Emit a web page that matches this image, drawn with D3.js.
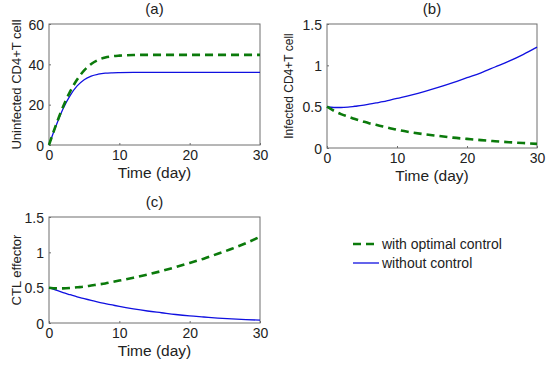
<!DOCTYPE html>
<html>
<head>
<meta charset="utf-8">
<script src="https://cdn.jsdelivr.net/npm/d3@7"></script>
<style>
  body { margin: 0; background: #fff; }
  svg { font-family: "Liberation Sans", Arial, sans-serif; }
</style>
</head>
<body>
<div id="chart"></div>
<script>
// time grid (days)
const days = [0, 1, 2, 3, 4, 5, 6, 7, 8, 9, 10, 12, 14, 16, 18, 20, 22, 24, 26, 28, 30];

// (a) uninfected CD4+T cells
const uninfWith    = [0, 10, 19, 26.5, 32.5, 37, 40.2, 42.2, 43.4, 44.0, 44.3, 44.6, 44.7, 44.7, 44.7, 44.7, 44.7, 44.7, 44.7, 44.7, 44.7];
const uninfWithout = [0, 9.5, 18, 24.5, 29.3, 32.4, 34.2, 35.1, 35.6, 35.8, 35.9, 36, 36, 36, 36, 36, 36, 36, 36, 36, 36];

// (b) infected CD4+T cells
const infWith    = [0.5, 0.45, 0.41, 0.38, 0.35, 0.325, 0.3, 0.28, 0.26, 0.24, 0.22, 0.19, 0.165, 0.145, 0.125, 0.11, 0.095, 0.082, 0.07, 0.06, 0.05];
const infWithout = [0.5, 0.49, 0.49, 0.495, 0.505, 0.515, 0.53, 0.545, 0.56, 0.58, 0.6, 0.64, 0.685, 0.735, 0.79, 0.85, 0.91, 0.98, 1.05, 1.13, 1.22];

// (c) CTL effector
const ctlWith    = [0.5, 0.49, 0.49, 0.495, 0.505, 0.515, 0.53, 0.545, 0.56, 0.58, 0.6, 0.64, 0.685, 0.735, 0.79, 0.85, 0.91, 0.98, 1.05, 1.13, 1.22];
const ctlWithout = [0.5, 0.465, 0.43, 0.4, 0.37, 0.345, 0.32, 0.295, 0.275, 0.255, 0.235, 0.2, 0.17, 0.145, 0.12, 0.1, 0.085, 0.07, 0.058, 0.048, 0.04];

const xTicks = [0, 10, 20, 30];
const legendLabels = ["with optimal control", "without control"];

const width = 550, height = 375;
const green = "#0b7a0b", blue = "#1010e0", axisColor = "#6e6e6e";

const panels = [
  { title: "(a)", ylabel: "Uninfected CD4+T cell", ylabelSize: 13, x0: 49, x1: 260, y0: 24, y1: 145,
    yDomain: [0, 60], yTicks: [0, 20, 40, 60], withCtl: uninfWith, without: uninfWithout, ylabX: 21 },
  { title: "(b)", ylabel: "Infected CD4+T cell", ylabelSize: 12, x0: 327, x1: 537, y0: 24, y1: 148,
    yDomain: [0, 1.5], yTicks: [0, 0.5, 1, 1.5], withCtl: infWith, without: infWithout, ylabX: 293 },
  { title: "(c)", ylabel: "CTL effector", ylabelSize: 13, x0: 49, x1: 260, y0: 217, y1: 323,
    yDomain: [0, 1.5], yTicks: [0, 0.5, 1, 1.5], withCtl: ctlWith, without: ctlWithout, ylabX: 21 }
];

const svg = d3.select("#chart").append("svg").attr("width", width).attr("height", height);

panels.forEach(p => {
  const x = d3.scaleLinear().domain([0, 30]).range([p.x0, p.x1]);
  const y = d3.scaleLinear().domain(p.yDomain).range([p.y1, p.y0]);
  const g = svg.append("g");

  // box
  g.append("rect")
    .attr("x", p.x0).attr("y", p.y0)
    .attr("width", p.x1 - p.x0).attr("height", p.y1 - p.y0)
    .attr("fill", "none").attr("stroke", axisColor).attr("stroke-width", 1);

  // axes (ticks pointing inward)
  const fmt = d => d3.format("~g")(d);
  const xAxis = g.append("g").attr("transform", `translate(0,${p.y1})`)
    .call(d3.axisBottom(x).tickValues(xTicks).tickFormat(fmt).tickSizeInner(-2).tickSizeOuter(0).tickPadding(5));
  const yAxis = g.append("g").attr("transform", `translate(${p.x0},0)`)
    .call(d3.axisLeft(y).tickValues(p.yTicks).tickFormat(fmt).tickSizeInner(-2).tickSizeOuter(0).tickPadding(5));
  [xAxis, yAxis].forEach(a => {
    a.select(".domain").remove();
    a.selectAll("line").attr("stroke", axisColor);
    a.selectAll("text").attr("fill", "#222").attr("font-size", 14)
      .attr("font-family", "'Liberation Sans', Arial, sans-serif");
  });
  xAxis.selectAll("text").attr("dy", "0.71em");
  yAxis.selectAll("text").attr("dy", "0.36em");

  // lines
  const line = vals => d3.line().x((d, i) => x(days[i])).y(d => y(d)).curve(d3.curveMonotoneX)(vals);
  g.append("path").attr("d", line(p.without))
    .attr("fill", "none").attr("stroke", blue).attr("stroke-width", 1.3);
  g.append("path").attr("d", line(p.withCtl))
    .attr("fill", "none").attr("stroke", green).attr("stroke-width", 2.6)
    .attr("stroke-dasharray", "8,5");

  // labels
  const cx = (p.x0 + p.x1) / 2;
  g.append("text").attr("x", cx).attr("y", p.y0 - 10).attr("text-anchor", "middle")
    .attr("font-size", 15).attr("fill", "#222").text(p.title);
  g.append("text").attr("x", cx).attr("y", p.y1 + 33).attr("text-anchor", "middle")
    .attr("font-size", 15.5).attr("fill", "#222").text("Time (day)");
  g.append("text")
    .attr("transform", `translate(${p.ylabX},${(p.y0 + p.y1) / 2}) rotate(-90)`)
    .attr("text-anchor", "middle").attr("font-size", p.ylabelSize).attr("fill", "#222").text(p.ylabel);
});

// legend
const legend = svg.append("g").attr("transform", "translate(353,244)");
legendLabels.forEach((lab, i) => {
  const row = legend.append("g").attr("transform", `translate(0,${i * 19})`);
  row.append("line").attr("x1", 0).attr("x2", 26).attr("y1", 0).attr("y2", 0)
    .attr("stroke", i === 0 ? green : blue)
    .attr("stroke-width", i === 0 ? 2.6 : 1.3)
    .attr("stroke-dasharray", i === 0 ? "8,5" : null);
  row.append("text").attr("x", 29).attr("y", 0).attr("dy", "0.35em")
    .attr("font-size", 14).attr("fill", "#222").text(lab);
});
</script>
</body>
</html>
